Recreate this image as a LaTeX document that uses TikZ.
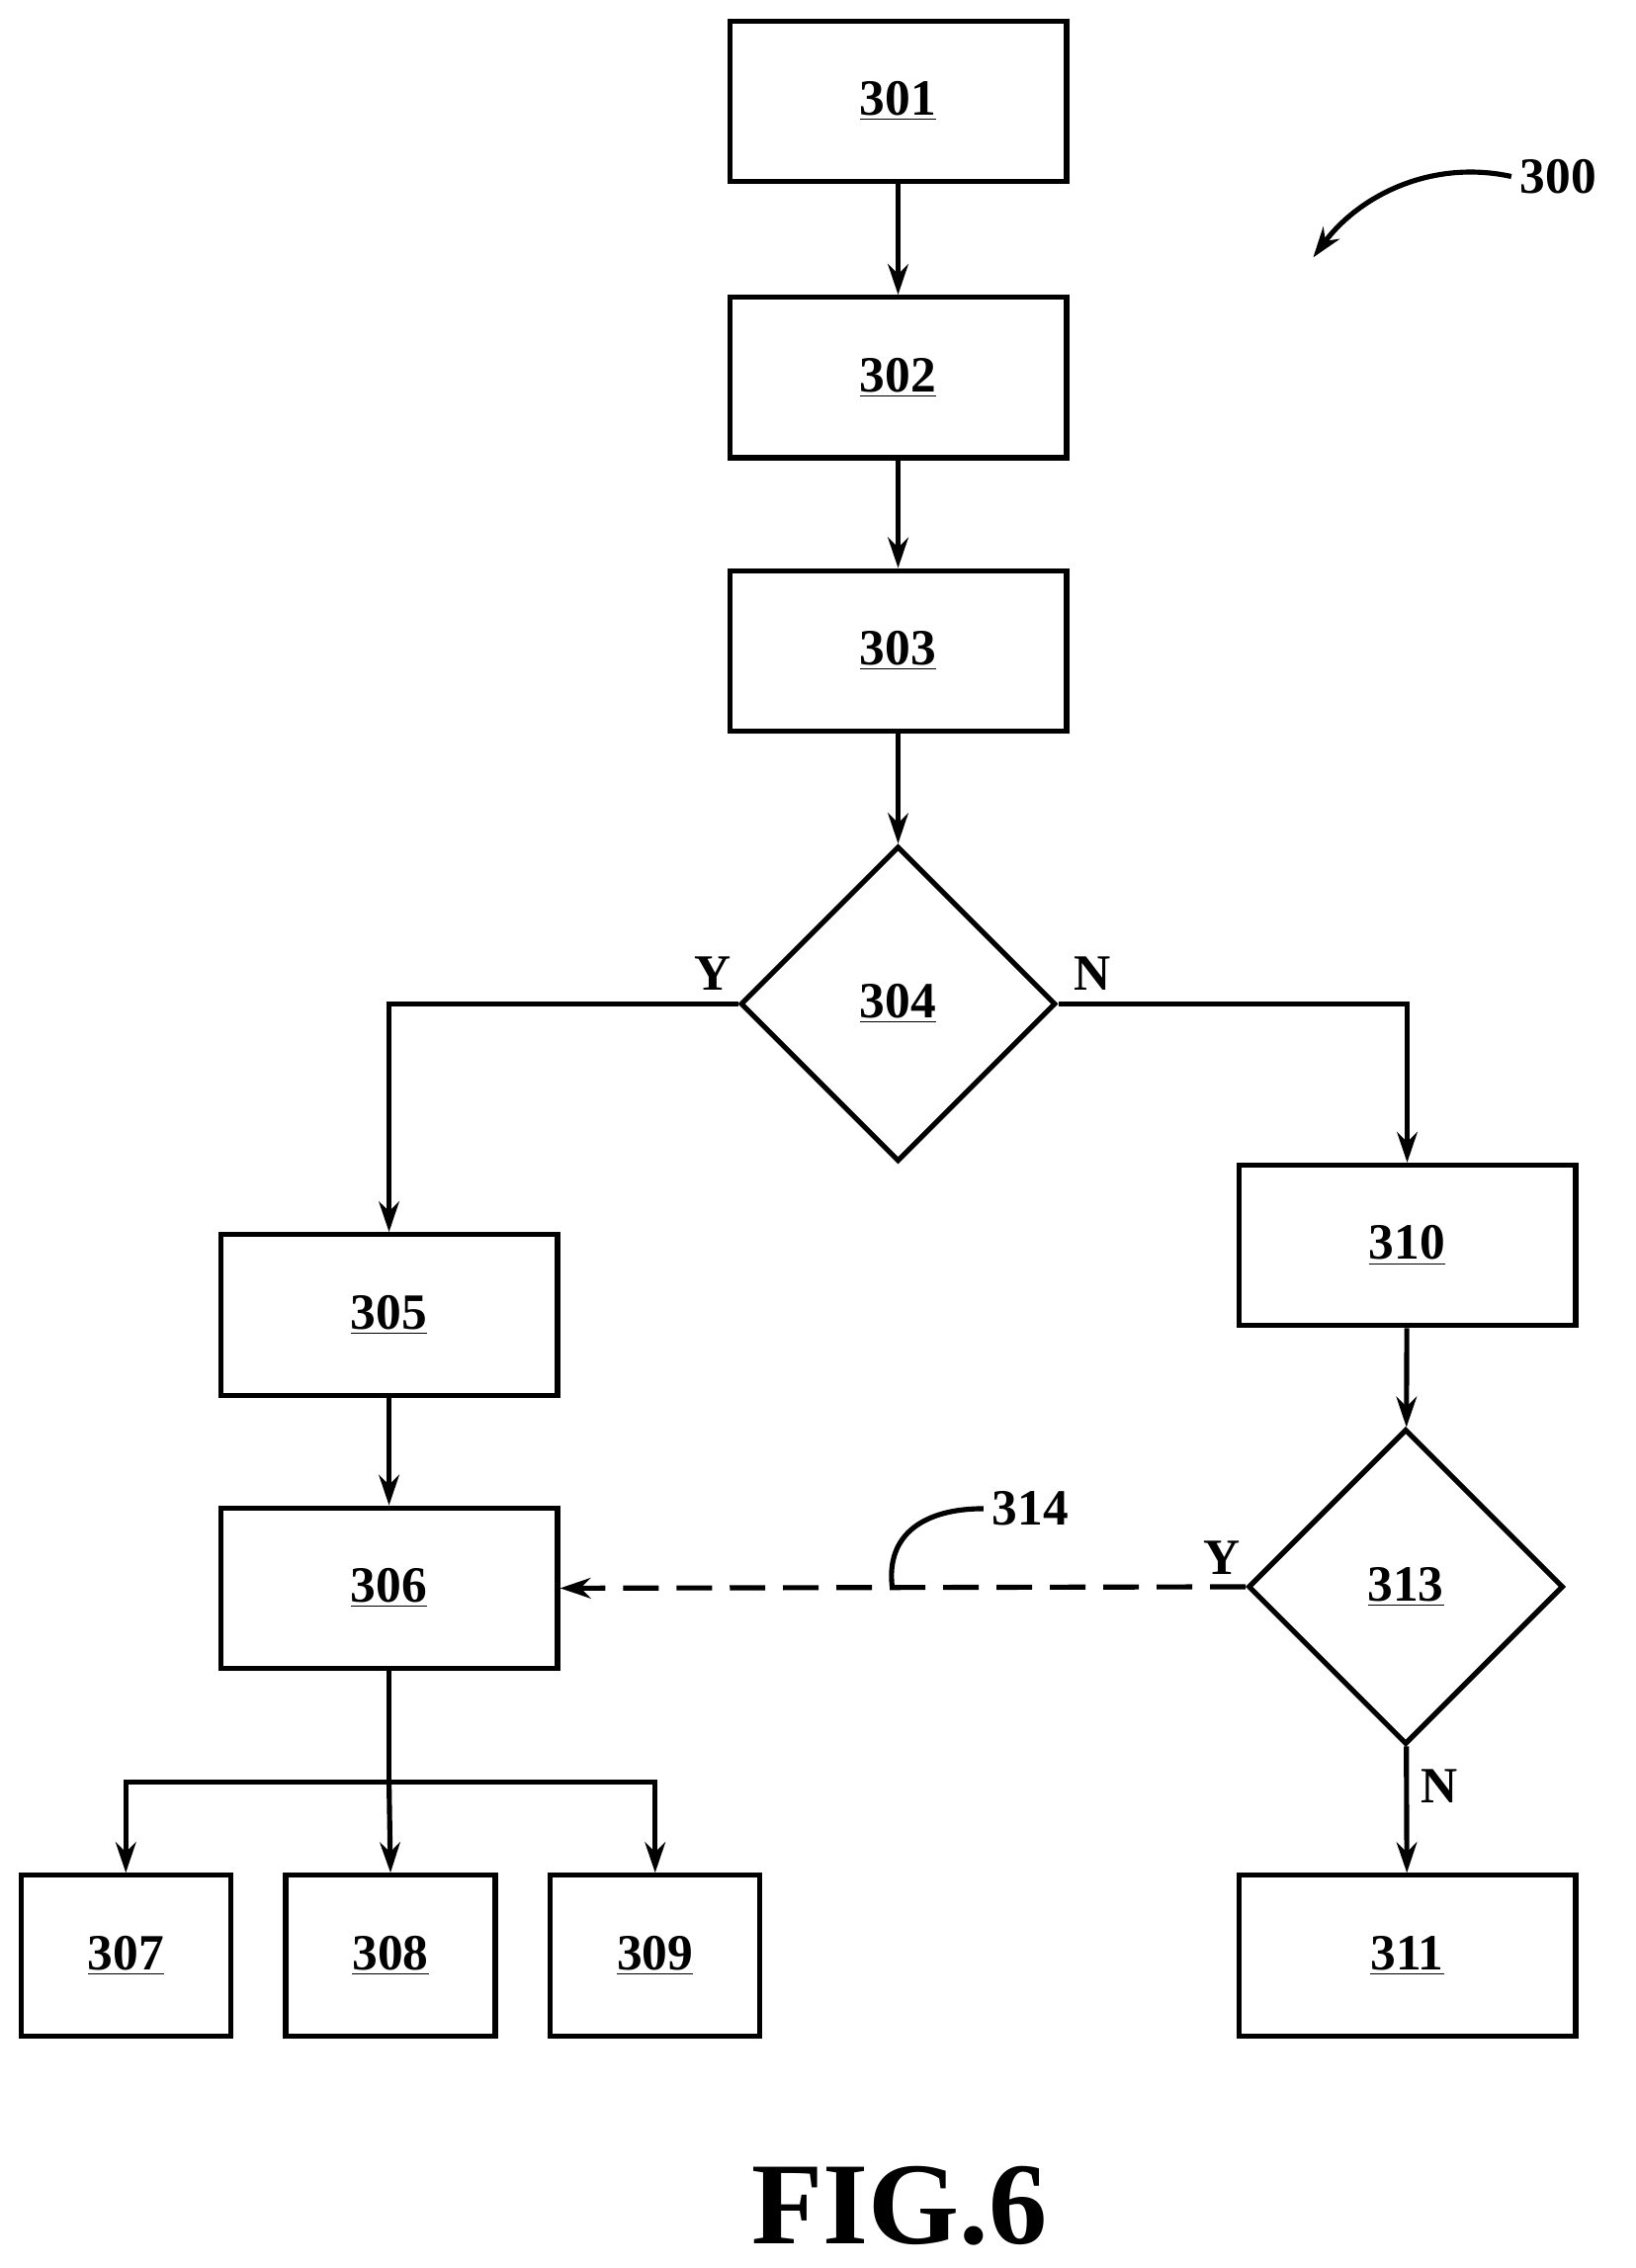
\documentclass[tikz,border=0pt]{standalone}
\usepackage{fontspec}
\setmainfont{Liberation Serif}
\usetikzlibrary{shapes.geometric,arrows.meta}
\begin{document}
\begin{tikzpicture}[x=0.02cm,y=-0.02cm,
  lw/.style={line width=2pt},
  box/.style={draw,lw,rectangle,inner sep=0pt,font=\fontsize{20}{24}\selectfont\bfseries},
  big/.style={box,minimum width=4.66cm,minimum height=2.22cm},
  small/.style={box,minimum width=2.9cm,minimum height=2.22cm},
  dia/.style={draw,lw,diamond,inner sep=0pt,minimum width=4.36cm,minimum height=4.36cm,font=\fontsize{20}{24}\selectfont\bfseries},
  lab/.style={font=\fontsize{20}{24}\selectfont\bfseries},
  arr/.style={lw,-{Stealth[length=12pt,width=8pt]}}]
\useasboundingbox (0,0) rectangle (1131,1568);
\node[big] (n301) at (621,70) {\underline{301}};
\node[big] (n302) at (621,261) {\underline{302}};
\node[big] (n303) at (621,450) {\underline{303}};
\node[dia] (n304) at (621,694) {\underline{304}};
\node[big] (n305) at (269,909) {\underline{305}};
\node[big] (n306) at (269,1098) {\underline{306}};
\node[small] (n307) at (87,1352) {\underline{307}};
\node[small] (n308) at (270,1352) {\underline{308}};
\node[small] (n309) at (453,1352) {\underline{309}};
\node[big] (n310) at (973,861) {\underline{310}};
\node[dia] (n313) at (972,1097) {\underline{313}};
\node[big] (n311) at (973,1352) {\underline{311}};
\draw[arr] (n301) -- (n302);
\draw[arr] (n302) -- (n303);
\draw[arr] (n303) -- (n304);
\draw[arr] (n304.west) -| (n305.north);
\draw[arr] (n304.east) -| (n310.north);
\draw[arr] (n305) -- (n306);
\coordinate (br) at (269,1232);
\draw[lw] (n306.south) -- (br);
\draw[arr] (br) -- (n308.north);
\draw[arr] (br) -| (n307.north);
\draw[arr] (br) -| (n309.north);
\draw[arr] (n310) -- (n313);
\draw[arr] (n313) -- (n311);
\draw[arr,dash pattern=on 14pt off 7pt] (n313.west) -- (n306.east);
\node[lab] at (493,673) {Y};
\node[lab] at (755,673) {N};
\node[lab] at (845,1077) {Y};
\node[lab] at (995,1235) {N};
\coordinate (l314) at (617,1098);
\node[lab,anchor=west] (t314) at (680,1043) {314};
\draw[lw] (l314) .. controls (612,1060) and (640,1043) .. (t314.west);
\node[lab,anchor=west] (t300) at (1045,122) {300};
\coordinate (e300) at (908,178);
\draw[arr] (t300.west) .. controls (990,110) and (940,135) .. (e300);
\node[font=\fontsize{46}{52}\selectfont\bfseries] (fig) at (622,1525) {FIG.6};
\end{tikzpicture}
\end{document}
